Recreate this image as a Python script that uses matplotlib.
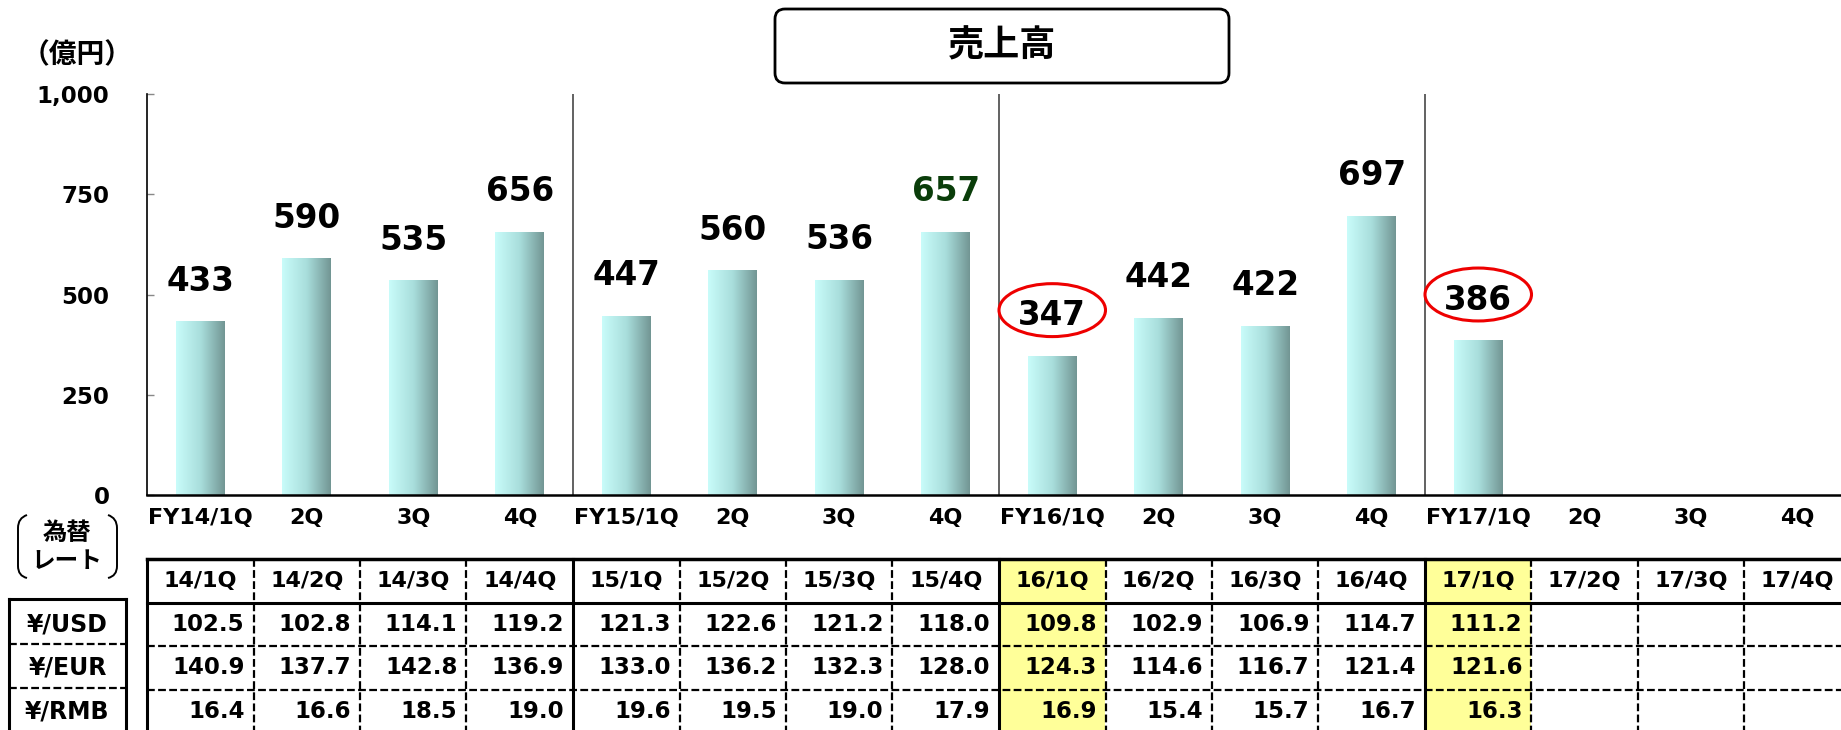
import numpy as np
import matplotlib.pyplot as plt
from matplotlib.colors import LinearSegmentedColormap
from matplotlib.patches import Ellipse, FancyBboxPatch, PathPatch, Rectangle
from matplotlib.path import Path
from matplotlib.ticker import FuncFormatter

plt.rcParams['font.family'] = ['DejaVu Sans', 'Noto Sans CJK JP']

# ---- data ----
quarters = ['FY14/1Q', '2Q', '3Q', '4Q', 'FY15/1Q', '2Q', '3Q', '4Q',
            'FY16/1Q', '2Q', '3Q', '4Q', 'FY17/1Q', '2Q', '3Q', '4Q']
sales = [433, 590, 535, 656, 447, 560, 536, 657, 347, 442, 422, 697, 386]  # 億円

rate_periods = ['14/1Q', '14/2Q', '14/3Q', '14/4Q', '15/1Q', '15/2Q', '15/3Q', '15/4Q',
                '16/1Q', '16/2Q', '16/3Q', '16/4Q', '17/1Q', '17/2Q', '17/3Q', '17/4Q']
rate_names = ['¥/USD', '¥/EUR', '¥/RMB']
usd = [102.5, 102.8, 114.1, 119.2, 121.3, 122.6, 121.2, 118.0, 109.8, 102.9, 106.9, 114.7, 111.2]
eur = [140.9, 137.7, 142.8, 136.9, 133.0, 136.2, 132.3, 128.0, 124.3, 114.6, 116.7, 121.4, 121.6]
rmb = [16.4, 16.6, 18.5, 19.0, 19.6, 19.5, 19.0, 17.9, 16.9, 15.4, 15.7, 16.7, 16.3]

circled = [8, 12]      # first quarters of FY16 / FY17
green_label = 7

W, H = 1841, 730
fig = plt.figure(figsize=(W / 100, H / 100), dpi=100)


def box(x0, y0, x1, y1):
    # pixel box (top-left origin) -> figure fraction rect
    return [x0 / W, 1 - y1 / H, (x1 - x0) / W, (y1 - y0) / H]


def inch(x, y):
    return (x / 100, (H - y) / 100)


ax = fig.add_axes(box(147, 94, 1851, 495))
tb = fig.add_axes(box(147, 559, 1851, 733))

# ---- bars with horizontal gradient ----
cmap = LinearSegmentedColormap.from_list('teal', ['#c9fcfa', '#a9dedc', '#729593'])
grad = np.linspace(0, 1, 256).reshape(1, -1)
xs = np.arange(len(sales))
bars = ax.bar(xs, sales, width=0.46, color='none', zorder=2)
for b in bars:
    x0, w, h = b.get_x(), b.get_width(), b.get_height()
    im = ax.imshow(grad, cmap=cmap, extent=[x0, x0 + w, 0, h], aspect='auto', zorder=2)
    im.set_clip_path(b)

for i, v in enumerate(sales):
    ax.annotate(f'{v}', (i, v), xytext=(0, 17), textcoords='offset points',
                ha='center', va='bottom', fontsize=23.5, fontweight='bold',
                color='#0a3d0a' if i == green_label else 'black')

for i in circled:
    ax.add_patch(Ellipse((i, sales[i] + 114), 1.0, 132, fill=False,
                         ec='#ee0000', lw=2.2, zorder=4, clip_on=False))

# fiscal year separators
ax.vlines([3.5, 7.5, 11.5], 0, 1000, colors='#555555', lw=1.3, zorder=1)

ax.set_xlim(-0.5, 15.5)
ax.set_ylim(0, 1000)
ax.set_yticks([0, 250, 500, 750, 1000])
ax.yaxis.set_major_formatter(FuncFormatter(lambda v, p: f'{v:,.0f}'))
ax.tick_params(axis='y', direction='in', length=5, width=1, color='#888888',
               pad=27, labelsize=16.5)
ax.set_xticks(np.arange(len(quarters)))
ax.set_xticklabels(quarters)
ax.tick_params(axis='x', length=0, pad=9.5, labelsize=16)
for lab in ax.get_xticklabels() + ax.get_yticklabels():
    lab.set_fontweight('bold')
ax.spines['top'].set_visible(False)
ax.spines['right'].set_visible(False)
ax.spines['left'].set_linewidth(1.2)
ax.spines['bottom'].set_linewidth(1.8)

# ---- exchange rate table ----
tb.set_xlim(-0.5, 15.5)
tb.set_ylim(4, 0)
tb.axis('off')
dash = (0, (3.5, 1.5))

for c in circled:
    tb.add_patch(Rectangle((c - 0.5, 0), 1, 4, fc='#ffff99', ec='none', zorder=0))

tb.plot([-0.5, 15.5], [0, 0], color='black', lw=2.5, clip_on=False)
tb.plot([-0.5, 15.5], [1, 1], color='black', lw=2.2, clip_on=False)
tb.hlines([2, 3], -0.5, 15.5, colors='black', linestyles=dash, lw=1.6, clip_on=False)
for k in range(len(rate_periods) + 1):
    xb = k - 0.5
    if k % 4 == 0:
        tb.plot([xb, xb], [0, 4], color='black', lw=2.2, clip_on=False)
    else:
        tb.plot([xb, xb], [0, 4], color='black', lw=1.6, ls=dash, clip_on=False)

for j, p in enumerate(rate_periods):
    tb.text(j, 0.5, p, ha='center', va='center', fontsize=16, fontweight='bold')
for r, vals in enumerate([usd, eur, rmb]):
    for j, v in enumerate(vals):
        tb.text(j + 0.5 - 0.085, r + 1.5, f'{v:.1f}', ha='right', va='center',
                fontsize=16.5, fontweight='bold')

# row names box on the left
lx0, lx1 = -1.796, -0.697
tb.plot([lx0, lx1], [0.92, 0.92], color='black', lw=2.2, clip_on=False)
tb.plot([lx0, lx0], [0.92, 4], color='black', lw=2.2, clip_on=False)
tb.plot([lx1, lx1], [0.92, 4], color='black', lw=2.2, clip_on=False)
tb.hlines([1.95, 2.97], lx0, lx1, colors='black', linestyles=dash, lw=1.6, clip_on=False)
for r, name in enumerate(rate_names):
    tb.text((lx0 + lx1) / 2, r + 1.5, name, ha='center', va='center',
            fontsize=17, fontweight='bold')

# ---- labels outside the axes ----
fig.text(77 / W, 1 - 55 / H, '（億円）', ha='center', va='center',
         fontsize=20, fontweight='bold')

title_box = FancyBboxPatch(inch(775, 83), 454 / 100, 74 / 100,
                           boxstyle='round,pad=0,rounding_size=0.1',
                           transform=fig.dpi_scale_trans, fc='white', ec='black', lw=2)
fig.patches.append(title_box)
fig.text(1002 / W, 1 - 46 / H, '売上高', ha='center', va='center',
         fontsize=26, fontweight='bold')

# bracketed "為替レート" caption
for xa, xb in [(27, 18), (108, 117)]:
    verts = [inch(xa, 515), inch(xb, 518), inch(xb, 528),
             inch(xb, 566),
             inch(xb, 566), inch(xb, 576), inch(xa, 578)]
    codes = [Path.MOVETO, Path.CURVE3, Path.CURVE3, Path.LINETO,
             Path.LINETO, Path.CURVE3, Path.CURVE3]
    fig.patches.append(PathPatch(Path(verts, codes), transform=fig.dpi_scale_trans,
                                 fill=False, ec='black', lw=1.4))
fig.text(67 / W, 1 - 533 / H, '為替', ha='center', va='center', fontsize=17.5, fontweight='bold')
fig.text(67 / W, 1 - 561 / H, 'レート', ha='center', va='center', fontsize=17, fontweight='bold')

fig.savefig('out.png', dpi=100)
